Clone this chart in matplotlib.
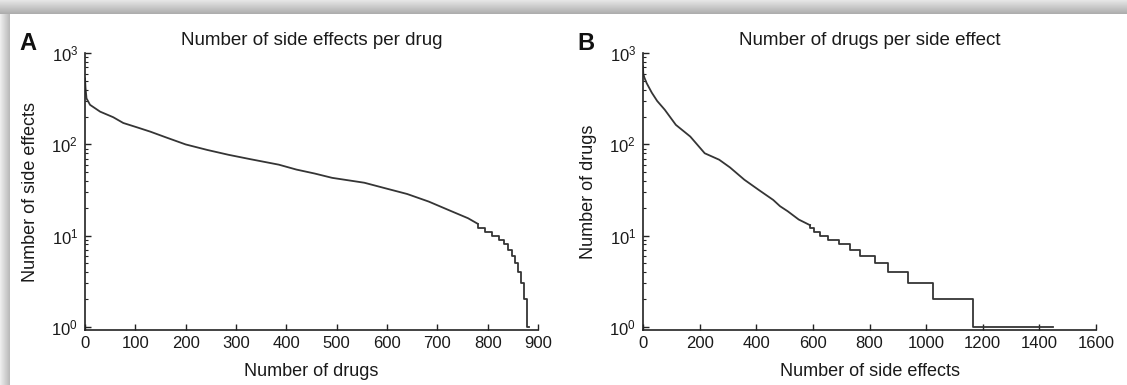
import numpy as np
import matplotlib
matplotlib.use('Agg')
import matplotlib.pyplot as plt

plt.rcParams['font.family'] = ['Liberation Sans', 'DejaVu Sans']

# panel A: side effects per drug (ranked), smooth part + integer tail
drug_rank_a = [0, 1, 3, 10, 30, 56, 76, 105, 130, 160, 200, 243, 285, 328, 385,
               420, 456, 491, 555, 597, 640, 683, 725, 761, 780]
side_effects_a = [530, 420, 320, 272, 229, 199, 172, 153, 138, 120, 100, 87, 77, 69, 60,
                  53, 48, 43, 38, 33, 28.6, 23.6, 18.8, 15.5, 13.5]
tail_start_a = [780, 795, 808, 822, 832, 840, 848, 855, 860, 866, 872, 878]
tail_count_a = [12, 11, 10, 9, 8, 7, 6, 5, 4, 3, 2, 1]
tail_end_a = 883

# panel B: drugs per side effect (ranked)
se_rank_b = [0, 1, 5, 13, 31, 50, 77, 116, 167, 218, 269, 307, 358, 410, 460,
             484, 511, 550, 590]
drugs_b = [720, 600, 540, 470, 370, 300, 240, 164, 122, 80, 68, 56, 41, 31.5, 24.6,
           21, 18.5, 15, 13]
tail_start_b = [590, 605, 625, 655, 692, 730, 767, 819, 866, 936, 1026, 1166]
tail_count_b = [12, 11, 10, 9, 8, 7, 6, 5, 4, 3, 2, 1]
tail_end_b = 1449

W, H = 1127, 385
fig = plt.figure(figsize=(W / 100, H / 100), dpi=100)

# grey shadow frame along top and left edge
bg = np.ones((H, W, 3))
for y in range(14):
    bg[y, :, :] = 0.90 - 0.22 * y / 13
for x in range(10):
    bg[14:, x, :] = 0.93 - 0.20 * x / 9
fig.figimage(bg, xo=0, yo=0, origin='upper', zorder=-10)

line_col = '#353535'
txt_col = '#1a1a1a'


def draw_curve(ax, xs, ys, starts, counts, end):
    # smooth head, then integer staircase joined to it
    sx = [xs[-1]] + list(starts) + [end]
    sy = [ys[-1]] + list(counts) + [counts[-1]]
    ax.plot(xs, ys, color=line_col, lw=1.3, solid_joinstyle='round')
    ax.step(sx, sy, where='post', color=line_col, lw=1.3)


def setup(ax, xmax, step):
    ax.set_yscale('log')
    ax.set_ylim(10 ** -0.036, 1000)
    ax.set_xlim(0, xmax)
    ax.set_xticks(np.arange(0, xmax + 1, step))
    for s in ['top', 'right']:
        ax.spines[s].set_visible(False)
    for s in ['left', 'bottom']:
        ax.spines[s].set_linewidth(1.2)
        ax.spines[s].set_color('#222222')
    ax.tick_params(which='major', direction='in', length=4, width=1.0,
                   labelsize=12, colors='#222222', labelcolor=txt_col, pad=4)
    ax.tick_params(which='minor', direction='in', length=2.5, width=0.8, colors='#222222')
    ax.tick_params(axis='y', pad=5)
    ax.set_facecolor('none')


left_a = 85 / W
left_b = 643 / W
bottom = 1 - 330 / H
width = 453 / W
height = (330 - 53.3) / H

ax1 = fig.add_axes([left_a, bottom, width, height])
draw_curve(ax1, drug_rank_a, side_effects_a, tail_start_a, tail_count_a, tail_end_a)
setup(ax1, 900, 100)
ax1.set_title('Number of side effects per drug', fontsize=13.5, color=txt_col, pad=6)
ax1.set_xlabel('Number of drugs', fontsize=13, color=txt_col)
ax1.set_ylabel('Number of side effects', fontsize=13, color=txt_col)
ax1.xaxis.set_label_coords(0.5, -0.12)
ax1.yaxis.set_label_coords(-0.101, 0.5)

ax2 = fig.add_axes([left_b, bottom, width, height])
draw_curve(ax2, se_rank_b, drugs_b, tail_start_b, tail_count_b, tail_end_b)
setup(ax2, 1600, 200)
ax2.set_title('Number of drugs per side effect', fontsize=13.5, color=txt_col, pad=6)
ax2.set_xlabel('Number of side effects', fontsize=13, color=txt_col)
ax2.set_ylabel('Number of drugs', fontsize=13, color=txt_col)
ax2.xaxis.set_label_coords(0.5, -0.12)
ax2.yaxis.set_label_coords(-0.101, 0.5)

fig.text(19 / W, 1 - 50 / H, 'A', fontsize=17, fontweight='bold', color='#111111', va='baseline')
fig.text(577 / W, 1 - 50 / H, 'B', fontsize=17, fontweight='bold', color='#111111', va='baseline')

fig.savefig('out.png', dpi=100)
